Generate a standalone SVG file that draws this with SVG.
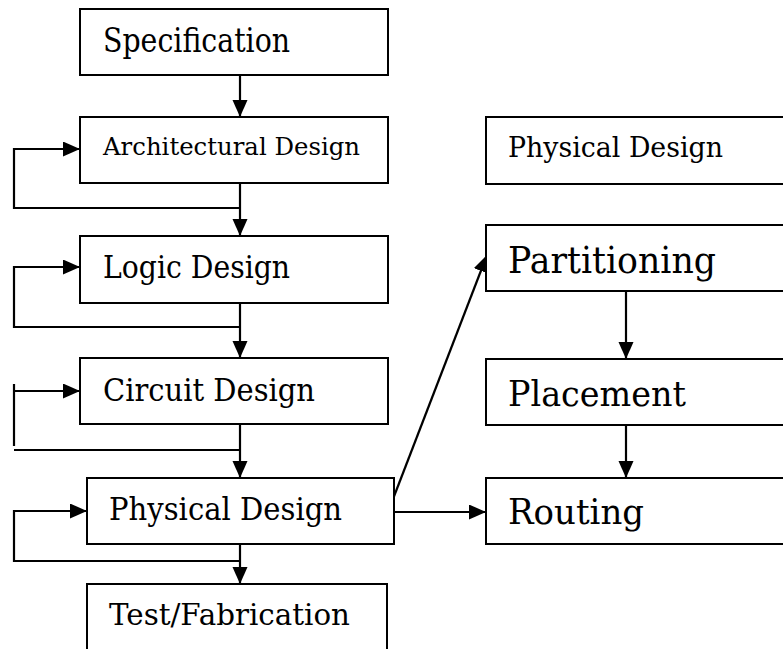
<svg xmlns="http://www.w3.org/2000/svg" width="783" height="649" viewBox="0 0 783 649">
<style>
rect.box{fill:#fff;stroke:#000;stroke-width:2}
text{font-family:"DejaVu Serif","Liberation Serif",serif;fill:#000}
.c{fill:none;stroke:#000;stroke-width:2.2}
</style>
<defs>
<marker id="ah" markerUnits="userSpaceOnUse" markerWidth="18" markerHeight="16" refX="17" refY="7.5" orient="auto">
<path d="M0,0 L17,7.5 L0,15 z" fill="#000"/>
</marker>
</defs>
<rect x="0" y="0" width="783" height="649" fill="#fff"/>
<g id="connectors">
<line class="c" x1="240" y1="75" x2="240" y2="117" marker-end="url(#ah)"/>
<line class="c" x1="240" y1="183" x2="240" y2="236" marker-end="url(#ah)"/>
<polyline class="c" points="240,208 14,208 14,149 80,149" marker-end="url(#ah)"/>
<line class="c" x1="240" y1="303" x2="240" y2="358" marker-end="url(#ah)"/>
<polyline class="c" points="240,327 14,327 14,267 80,267" marker-end="url(#ah)"/>
<line class="c" x1="240" y1="424" x2="240" y2="478" marker-end="url(#ah)"/>
<line class="c" x1="240" y1="450" x2="14" y2="450"/>
<line class="c" x1="14" y1="384" x2="14" y2="446"/>
<line class="c" x1="14" y1="391" x2="80" y2="391" marker-end="url(#ah)"/>
<line class="c" x1="240" y1="544" x2="240" y2="584" marker-end="url(#ah)"/>
<polyline class="c" points="240,561 14,561 14,511 87,511" marker-end="url(#ah)"/>
<line class="c" x1="393" y1="499" x2="487" y2="255" marker-end="url(#ah)"/>
<line class="c" x1="394" y1="512" x2="486" y2="512" marker-end="url(#ah)"/>
<line class="c" x1="626" y1="291" x2="626" y2="359" marker-end="url(#ah)"/>
<line class="c" x1="626" y1="425" x2="626" y2="478" marker-end="url(#ah)"/>
</g>
<g id="specification">
<rect class="box" x="80" y="9" width="308" height="66"/>
<text x="103" y="52" font-size="33" textLength="187" lengthAdjust="spacingAndGlyphs">Specification</text>
</g>
<g id="architectural">
<rect class="box" x="80" y="117" width="308" height="66"/>
<text x="103" y="155" font-size="25" textLength="257" lengthAdjust="spacingAndGlyphs">Architectural Design</text>
</g>
<g id="logic">
<rect class="box" x="80" y="236" width="308" height="67"/>
<text x="103" y="278" font-size="31" textLength="187" lengthAdjust="spacingAndGlyphs">Logic Design</text>
</g>
<g id="circuit">
<rect class="box" x="80" y="358" width="308" height="66"/>
<text x="103" y="401" font-size="31" textLength="212" lengthAdjust="spacingAndGlyphs">Circuit Design</text>
</g>
<g id="physical">
<rect class="box" x="87" y="478" width="307" height="66"/>
<text x="109" y="520" font-size="32" textLength="233" lengthAdjust="spacingAndGlyphs">Physical Design</text>
</g>
<g id="test">
<rect class="box" x="87" y="584" width="300" height="80"/>
<text x="109" y="625" font-size="30" textLength="241" lengthAdjust="spacingAndGlyphs">Test/Fabrication</text>
</g>
<g id="physical-title">
<rect class="box" x="486" y="117" width="310" height="67"/>
<text x="508" y="157" font-size="27" textLength="215" lengthAdjust="spacingAndGlyphs">Physical Design</text>
</g>
<g id="partitioning">
<rect class="box" x="486" y="225" width="310" height="66"/>
<text x="508" y="273" font-size="37" textLength="208" lengthAdjust="spacingAndGlyphs">Partitioning</text>
</g>
<g id="placement">
<rect class="box" x="486" y="359" width="310" height="66"/>
<text x="508" y="406" font-size="36" textLength="178" lengthAdjust="spacingAndGlyphs">Placement</text>
</g>
<g id="routing">
<rect class="box" x="486" y="478" width="310" height="66"/>
<text x="508" y="524" font-size="36" textLength="136" lengthAdjust="spacingAndGlyphs">Routing</text>
</g>
</svg>
